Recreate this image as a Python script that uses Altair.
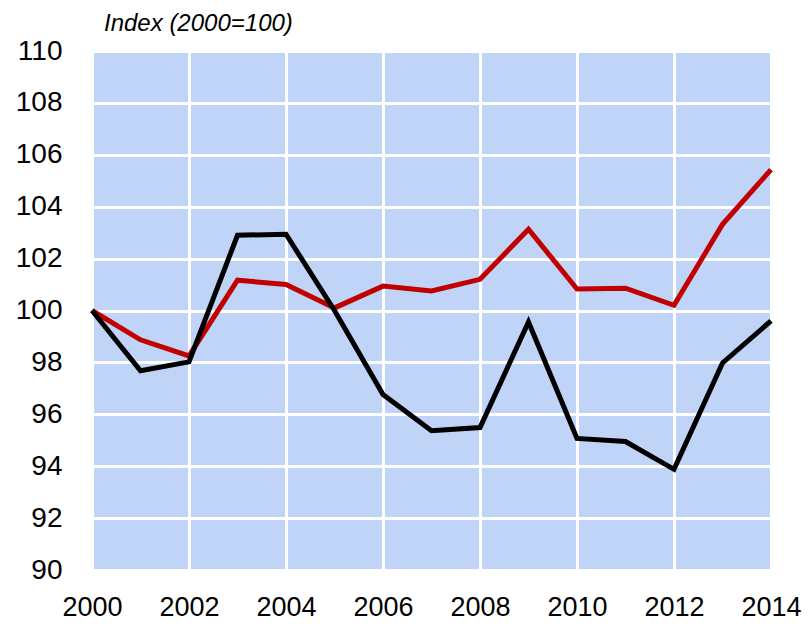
import altair as alt
import pandas as pd

years = list(range(2000, 2015))
red_series = [100.0, 98.87, 98.25, 101.17, 101.0, 100.1, 100.94, 100.75, 101.2, 103.13, 100.83, 100.86, 100.2, 103.32, 105.43]
black_series = [100.0, 97.68, 98.02, 102.9, 102.94, 100.0, 96.76, 95.37, 95.49, 99.56, 95.07, 94.95, 93.88, 97.98, 99.6]
series_names = ["Red", "Black"]
x_ticks = list(range(2000, 2015, 2))
y_ticks = list(range(90, 111, 2))
subtitle = ["Index (2000=100)"]

rows = []
for i, y in enumerate(years):
    rows.append({"year": y, "series": "Red", "value": red_series[i]})
    rows.append({"year": y, "series": "Black", "value": black_series[i]})
df = pd.DataFrame(rows)

font = "Liberation Sans"

base = alt.Chart(df).encode(
    x=alt.X("year:Q", scale=alt.Scale(domain=[2000, 2014], nice=False),
            axis=alt.Axis(values=x_ticks, format="d", title=None, labelFontSize=27,
                          labelFont=font, labelColor="black", labelPadding=24,
                          ticks=False, domain=False, gridColor="white", gridWidth=3,
                          gridOpacity=1, labelFlush=False)),
    y=alt.Y("value:Q", scale=alt.Scale(domain=[90, 110], nice=False, zero=False),
            axis=alt.Axis(values=y_ticks, title=None, labelFontSize=28, labelFont=font,
                          labelColor="black", labelPadding=30, ticks=False, domain=False,
                          gridColor="white", gridWidth=3, gridOpacity=1)),
    color=alt.Color("series:N", scale=alt.Scale(domain=series_names, range=["#c00000", "#000000"]),
                    legend=None),
)

red = base.transform_filter(alt.datum.series == "Red").mark_line(strokeWidth=5)
black = base.transform_filter(alt.datum.series == "Black").mark_line(strokeWidth=5)

label = alt.Chart(pd.DataFrame({"t": subtitle})).mark_text(
    align="left", baseline="alphabetic", fontSize=24, fontStyle="italic", font=font,
    color="black"
).encode(text="t:N", x=alt.value(12), y=alt.value(-20))

chart = alt.layer(red, black, label).properties(
    width=679,
    height=519,
    autosize=alt.AutoSizeParams(type="none"),
    padding={"left": 84, "top": 43, "right": 31, "bottom": 48},
).configure_view(fill="#c0d4f8", strokeWidth=0)

chart.save("out.html", embed_options={"renderer": "svg", "actions": False})
